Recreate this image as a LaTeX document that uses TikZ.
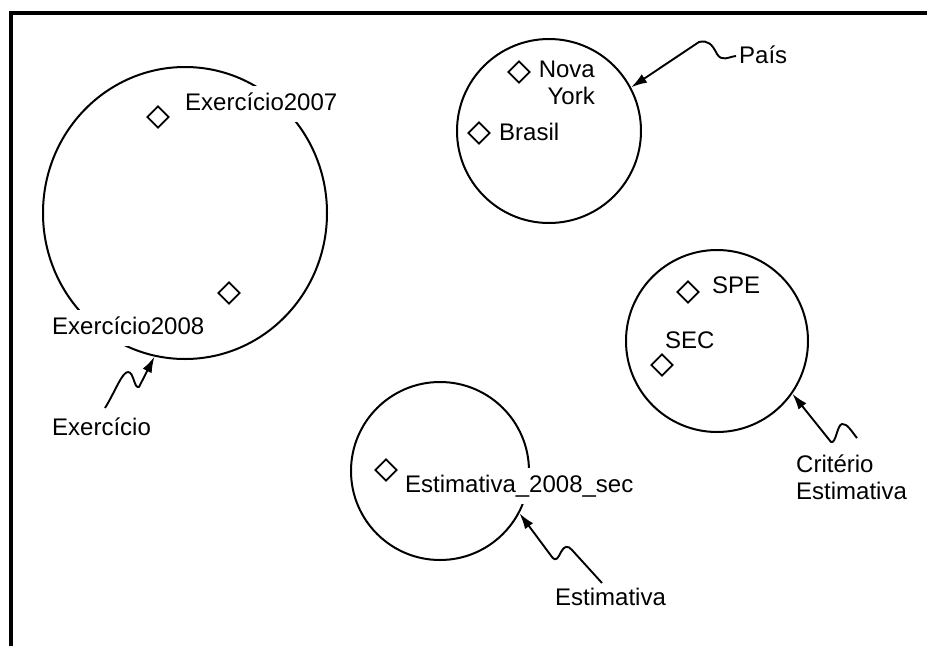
\documentclass[tikz,border=0pt]{standalone}
\usepackage{fontspec}
\setmainfont{Liberation Sans}
\usetikzlibrary{shapes.geometric,arrows.meta}
\begin{document}
\begin{tikzpicture}[x=1pt,y=-1pt,
  every node/.style={font=\fontsize{24}{27}\selectfont, text=black},
  set/.style={draw, line width=2pt, inner sep=0pt},
  member/.style={draw, diamond, line width=1.8pt, minimum width=22pt, minimum height=22pt, inner sep=0pt},
  lbl/.style={inner sep=0pt, anchor=base west},
  cutlbl/.style={fill=white, inner xsep=3pt, inner ysep=7pt, text height=17pt, text depth=5pt, anchor=base west},
  pointer/.style={line width=1.9pt, -{Latex[length=16pt,width=10pt]}, line join=round},
]
\useasboundingbox (0,0) rectangle (927,646);

% frame along the top and left edges
\draw[line width=4pt] (11,646) -- (11,12.7) -- (927,12.7);

% sets
\node[set, ellipse, minimum width=284pt, minimum height=292pt] (exerc) at (185,213) {};
\node[set, circle, minimum size=184pt] (pais) at (549,131) {};
\node[set, circle, minimum size=182pt] (crit) at (717,341) {};
\node[set, circle, minimum size=178pt] (estim) at (440,471) {};

% members
\node[member] (m07) at (158,117) {};
\node[member] (m08) at (229,293) {};
\node[member] (mny) at (519,72) {};
\node[member] (mbr) at (479,133) {};
\node[member] (mspe) at (688,292) {};
\node[member] (msec) at (662,365) {};
\node[member] (mest) at (386,470) {};

% member names
\node[cutlbl] (t07) at (182,110) {Exercício2007};
\node[cutlbl] (t08) at (49,334) {Exercício2008};
\node[lbl, align=right, anchor=north east] (tny) at (595,61) {Nova\\York};
\node[lbl] (tbr) at (499,140) {Brasil};
\node[lbl] (tspe) at (712,293) {SPE};
\node[lbl] (tsec) at (665,348) {SEC};
\node[cutlbl] (test) at (402,492) {Estimativa\_2008\_sec};

% set names
\node[lbl] (lexerc) at (52,435) {Exercício};
\node[lbl] (lpais) at (739,63) {País};
\node[lbl, align=left, anchor=north west] (lcrit) at (796,455) {Critério\\Estimativa};
\node[lbl] (lestim) at (555,605) {Estimativa};

% squiggly pointers from set names to sets
\coordinate (cpais) at (736,56);
\coordinate (cexerc) at (105,408);
\coordinate (ccrit) at (857,438);
\coordinate (cest) at (602,583);

\draw[pointer] (cpais) .. controls (728,57) and (722,62) .. (717,54)
  .. controls (712,44) and (708,40) .. (699,42) -- (pais.28);
\draw[pointer] (cexerc) .. controls (115,392) and (122,372) .. (128,372)
  .. controls (134,372) and (134,389) .. (139,387) -- (exerc.258);
\draw[pointer] (ccrit) .. controls (852,432) and (847,423) .. (842,424)
  .. controls (837,425) and (836,444) .. (831,442) -- (crit.-35);
\draw[pointer] (cest) -- (572,550) .. controls (568,545) and (564,546) .. (561,552)
  .. controls (558,558) and (556,562) .. (552,557) -- (estim.-28);
\end{tikzpicture}
\end{document}
